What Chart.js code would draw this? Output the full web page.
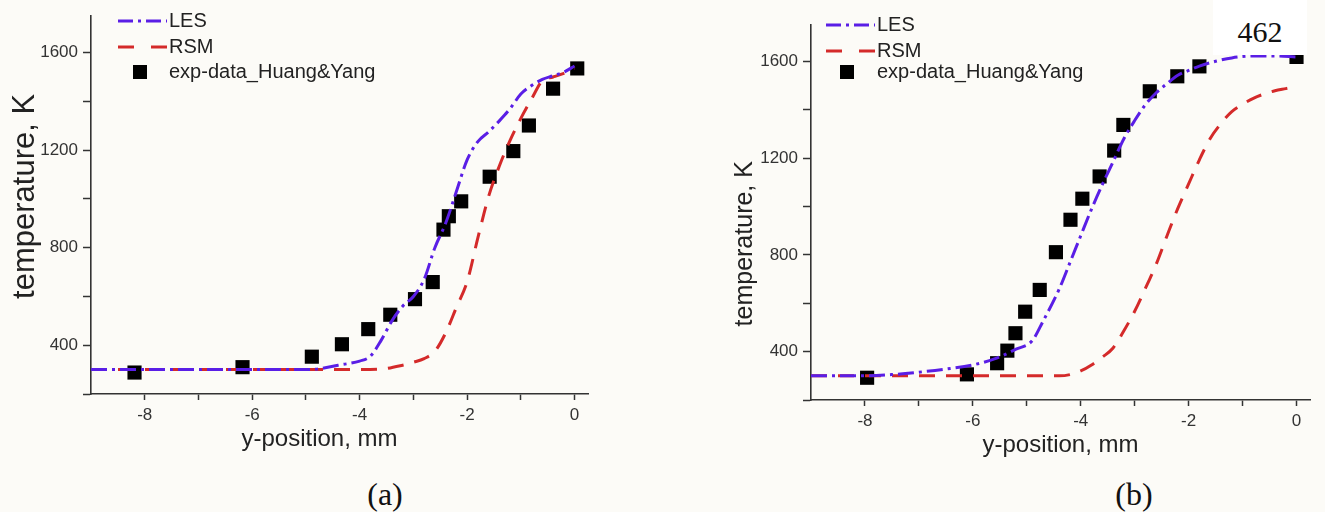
<!DOCTYPE html>
<html>
<head>
<meta charset="utf-8">
<script src="https://cdn.jsdelivr.net/npm/chart.js@4.4.1/dist/chart.umd.min.js"></script>
<style>
    body { margin: 0; background: #fcfbf7; width: 1325px; height: 512px; overflow: hidden; position: relative; }
    canvas { position: absolute; top: 0; }
    #chartA { left: 0; }
    #chartB { left: 720px; }
    .panel-label { position: absolute; top: 476px; width: 80px; margin-left: -40px; text-align: center;
        font-family: "Liberation Serif", "Times New Roman", serif; font-size: 32px; line-height: 36px; color: #111; }
    #pageNum { position: absolute; left: 1213px; top: 0; width: 94px; height: 55px; background: #fff;
        font-family: "Liberation Serif", "Times New Roman", serif; font-size: 30px; line-height: 64px;
        text-align: center; color: #111; }
</style>
</head>
<body>
<canvas id="chartA" width="600" height="460"></canvas>
<canvas id="chartB" width="605" height="466"></canvas>
<div class="panel-label" style="left:385px">(a)</div>
<div class="panel-label" style="left:1134px">(b)</div>
<div id="pageNum">462</div>
<script>
// axis ticks
const xTicks = [-8, -7, -6, -5, -4, -3, -2, -1, 0];
const xTickLabels = [-8, -6, -4, -2, 0];
const yTicks = [200, 400, 600, 800, 1000, 1200, 1400, 1600];
const yTickLabels = [400, 800, 1200, 1600];

// panel (a)
const lesA_x = [-9, -8, -7, -6, -5, -4.8, -4.4, -4.0, -3.8, -3.6, -3.4, -3.2, -3.0, -2.8, -2.6, -2.4, -2.2, -2.0, -1.8, -1.6, -1.4, -1.2, -1.0, -0.8, -0.6, -0.4, -0.2, 0];
const lesA_T = [300, 300, 300, 300, 300, 302, 318, 335, 355, 420, 500, 560, 600, 670, 800, 900, 1030, 1160, 1235, 1275, 1320, 1370, 1430, 1465, 1490, 1505, 1520, 1545];
const rsmA_x = [-9, -8, -7, -6, -5, -4, -3.6, -3.2, -3.0, -2.8, -2.6, -2.4, -2.2, -2.0, -1.8, -1.6, -1.4, -1.2, -1.0, -0.8, -0.6, -0.4, -0.2, 0];
const rsmA_T = [300, 300, 300, 300, 300, 300, 302, 318, 330, 345, 375, 450, 555, 660, 840, 1010, 1135, 1240, 1330, 1410, 1485, 1500, 1515, 1535];
const expA_x = [-8.19, -6.18, -4.89, -4.33, -3.84, -3.43, -2.97, -2.64, -2.44, -2.34, -2.11, -1.58, -1.14, -0.85, -0.40, 0.05];
const expA_T = [288, 310, 353, 404, 466, 525, 589, 659, 874, 929, 990, 1091, 1196, 1301, 1452, 1535];

// panel (b)
const lesB_x = [-9, -8, -7.5, -7, -6.5, -6, -5.6, -5.2, -4.9, -4.7, -4.4, -4.2, -4.0, -3.8, -3.6, -3.4, -3.2, -3.0, -2.8, -2.6, -2.4, -2.2, -2.0, -1.8, -1.5, -1.2, -0.8, -0.4, 0];
const lesB_T = [300, 300, 305, 315, 328, 345, 370, 410, 445, 525, 658, 768, 879, 989, 1090, 1185, 1280, 1355, 1421, 1470, 1508, 1542, 1562, 1580, 1600, 1614, 1622, 1622, 1618];
const rsmB_x = [-9, -8, -7, -6, -5, -4.4, -4.2, -4.0, -3.8, -3.6, -3.4, -3.2, -3.0, -2.8, -2.6, -2.4, -2.2, -2.0, -1.8, -1.6, -1.4, -1.2, -1.0, -0.8, -0.6, -0.4, -0.2, 0];
const rsmB_T = [300, 300, 300, 300, 300, 300, 305, 320, 345, 377, 415, 486, 567, 662, 762, 879, 992, 1093, 1193, 1281, 1343, 1392, 1422, 1447, 1465, 1478, 1487, 1496];
const expB_x = [-7.96, -6.11, -5.55, -5.36, -5.21, -5.03, -4.76, -4.46, -4.19, -3.97, -3.65, -3.38, -3.21, -2.72, -2.21, -1.80, 0];
const expB_T = [292, 306, 352, 404, 476, 565, 655, 811, 945, 1032, 1124, 1231, 1337, 1476, 1538, 1579, 1618];

const LES_COLOR = '#5a1ee6';
const RSM_COLOR = '#d42a2a';
const AXIS_COLOR = '#333';
const FONT = '"Liberation Sans", Arial, sans-serif';

function pts(xs, ys) {
    return xs.map((x, i) => ({ x: x, y: ys[i] }));
}

// legend drawn inside the plot area, top-left
const insideLegend = {
    id: 'insideLegend',
    afterDraw(chart, args, opts) {
        const ctx = chart.ctx;
        const a = chart.chartArea;
        const lx0 = a.left + opts.lineX, lx1 = lx0 + 49;
        ctx.save();
        ctx.lineWidth = 3;
        // LES
        ctx.strokeStyle = LES_COLOR;
        ctx.setLineDash([15, 5, 3, 5]);
        ctx.beginPath(); ctx.moveTo(lx0, a.top + opts.rows[0]); ctx.lineTo(lx1, a.top + opts.rows[0]); ctx.stroke();
        // RSM
        ctx.strokeStyle = RSM_COLOR;
        ctx.setLineDash([16, 17]);
        ctx.beginPath(); ctx.moveTo(lx0, a.top + opts.rows[1]); ctx.lineTo(lx1, a.top + opts.rows[1]); ctx.stroke();
        ctx.setLineDash([]);
        // exp square
        ctx.fillStyle = '#000';
        ctx.fillRect(a.left + opts.sqX - 7, a.top + opts.rows[2] - 7, 14, 14);
        // texts
        ctx.fillStyle = '#222';
        ctx.font = '20px ' + FONT;
        ctx.textBaseline = 'middle';
        ctx.fillText('LES', lx1 + 2, a.top + opts.rows[0]);
        ctx.fillText('RSM', lx1 + 2, a.top + opts.rows[1]);
        ctx.fillText('exp-data_Huang&Yang', a.left + opts.textX, a.top + opts.rows[2]);
        ctx.restore();
    }
};

function makeChart(id, les, rsm, exp, padding, legendPos, titles) {
    return new Chart(document.getElementById(id), {
        type: 'scatter',
        data: {
            datasets: [
                {
                    label: 'LES',
                    data: les,
                    showLine: true,
                    borderColor: LES_COLOR,
                    borderWidth: 3,
                    borderDash: [16, 5, 3, 5],
                    pointRadius: 0,
                    cubicInterpolationMode: 'monotone'
                },
                {
                    label: 'RSM',
                    data: rsm,
                    showLine: true,
                    borderColor: RSM_COLOR,
                    borderWidth: 3,
                    borderDash: [16, 11],
                    pointRadius: 0,
                    cubicInterpolationMode: 'monotone'
                },
                {
                    label: 'exp-data_Huang&Yang',
                    data: exp,
                    pointStyle: 'rect',
                    pointRadius: 10,
                    backgroundColor: '#000',
                    borderColor: '#000',
                    borderWidth: 0
                }
            ]
        },
        options: {
            responsive: false,
            animation: false,
            layout: { padding: padding },
            plugins: {
                legend: { display: false },
                tooltip: { enabled: false },
                insideLegend: legendPos
            },
            scales: {
                x: {
                    type: 'linear',
                    min: -9,
                    max: 0.25,
                    afterBuildTicks: (s) => { s.ticks = xTicks.map(v => ({ value: v })); },
                    afterFit: (s) => { s.height = 60; },
                    ticks: {
                        autoSkip: false,
                        maxRotation: 0,
                        padding: 5,
                        color: '#333',
                        font: { family: FONT, size: 17 },
                        callback: (v) => xTickLabels.includes(v) ? String(v) : ''
                    },
                    grid: { drawOnChartArea: false, drawTicks: true, tickLength: 6, tickColor: AXIS_COLOR, tickWidth: 1.5 },
                    border: { display: true, color: AXIS_COLOR, width: 1.6 },
                    title: {
                        display: true,
                        text: titles.x,
                        color: '#222',
                        padding: { top: 0, bottom: 0 },
                        font: { family: FONT, size: 24 }
                    }
                },
                y: {
                    type: 'linear',
                    min: 200,
                    max: 1750,
                    afterBuildTicks: (s) => { s.ticks = yTicks.map(v => ({ value: v })); },
                    afterFit: (s) => { s.width = 91; },
                    ticks: {
                        padding: 5,
                        color: '#333',
                        font: { family: FONT, size: 17 },
                        callback: (v) => yTickLabels.includes(v) ? String(v) : ''
                    },
                    grid: { drawOnChartArea: false, drawTicks: true, tickLength: 8, tickColor: AXIS_COLOR, tickWidth: 1.5 },
                    border: { display: true, color: AXIS_COLOR, width: 1.6 },
                    title: {
                        display: true,
                        text: titles.y,
                        color: '#222',
                        padding: { top: titles.yPad, bottom: 0 },
                        font: { family: FONT, size: titles.ySize }
                    }
                }
            }
        },
        plugins: [insideLegend]
    });
}

// extra spaces nudge the centred axis titles the way the original figure sits
makeChart('chartA',
    pts(lesA_x, lesA_T), pts(rsmA_x, rsmA_T), pts(expA_x, expA_T),
    { left: 0, top: 16, right: 12, bottom: 6 },
    { lineX: 27, sqX: 49, textX: 78, rows: [5, 31, 56] },
    { x: 'y-position, mm      ', y: '  temperature, K', ySize: 31, yPad: 7 });

makeChart('chartB',
    pts(lesB_x, lesB_T), pts(rsmB_x, rsmB_T), pts(expB_x, expB_T),
    { left: 0, top: 25, right: 15, bottom: 6 },
    { lineX: 15, sqX: 36, textX: 66, rows: [0, 26, 47] },
    { x: 'y-position, mm', y: 'temperature, K         ', ySize: 25, yPad: 10 });
</script>
</body>
</html>
